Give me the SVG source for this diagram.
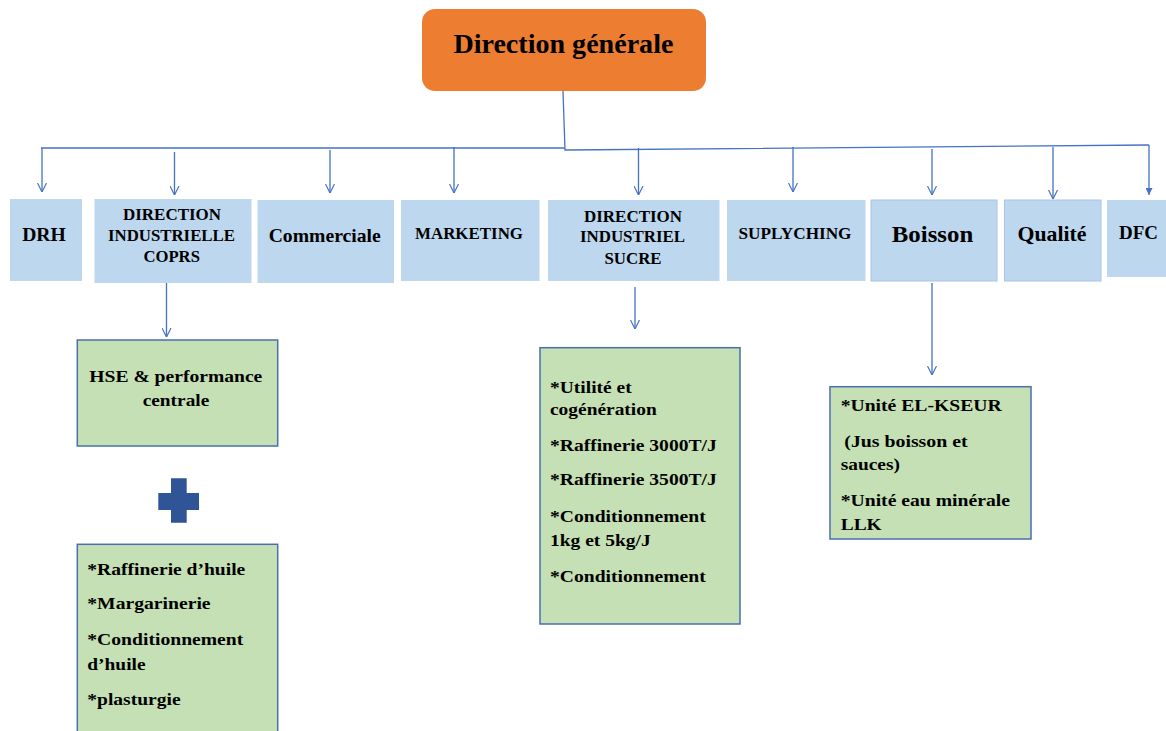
<svg xmlns="http://www.w3.org/2000/svg" width="1166" height="731" viewBox="0 0 1166 731" font-family="Liberation Serif, serif" font-weight="bold">
<style>
text{font-family:'Liberation Serif',serif;font-weight:700;fill:#000}
.c{text-anchor:middle}
.blue{fill:#BDD7EE}
.blueb{fill:#BDD7EE;stroke:#A7C4E6;stroke-width:1}
.green{fill:#C5E0B4;stroke:#4A6FB0;stroke-width:1.5}
.conn{fill:none;stroke:#4472C4;stroke-width:1.3}
.g{font-size:16.5px}
.l{font-size:17px}
</style>
<defs>
<marker id="v" viewBox="0 0 10 10" refX="10" refY="5" markerWidth="9" markerHeight="10" markerUnits="userSpaceOnUse" orient="auto">
<path d="M0,0 L10,5 L0,10" fill="none" stroke="#4472C4" stroke-width="1.3"/>
</marker>
<marker id="tri" viewBox="0 0 10 10" refX="10" refY="5" markerWidth="8" markerHeight="7" markerUnits="userSpaceOnUse" orient="auto">
<path d="M0,0 L10,5 L0,10 Z" fill="#4472C4"/>
</marker>
</defs>
<g id="connectors">
<path class="conn" d="M563,91 L565,150 L1149,145"/>
<path class="conn" d="M41,148 L565,148"/>
<path class="conn" d="M42,148 V192" marker-end="url(#v)"/>
<path class="conn" d="M174.5,152 V195" marker-end="url(#v)"/>
<path class="conn" d="M330,150 V193" marker-end="url(#v)"/>
<path class="conn" d="M454,147 V193" marker-end="url(#v)"/>
<path class="conn" d="M638.5,148 V195" marker-end="url(#v)"/>
<path class="conn" d="M793,147 V192" marker-end="url(#v)"/>
<path class="conn" d="M932,149 V195" marker-end="url(#v)"/>
<path class="conn" d="M1053,147 V199" marker-end="url(#v)"/>
<path class="conn" d="M1149,145 V195" marker-end="url(#tri)"/>
<path class="conn" d="M166.5,283 V337" marker-end="url(#v)"/>
<path class="conn" d="M635,287 V329" marker-end="url(#v)"/>
<path class="conn" d="M932,283 V375" marker-end="url(#v)"/>
</g>
<g id="direction-generale">
<rect x="422" y="9" width="284" height="82" rx="13" fill="#ED7D31"/>
<text class="c" x="563.4" y="53" font-size="27" textLength="220" lengthAdjust="spacingAndGlyphs">Direction générale</text>
</g>
<g id="drh">
<rect class="blue" x="10" y="199" width="72" height="82"/>
<text class="c" x="44" y="241" font-size="19" textLength="43.6" lengthAdjust="spacingAndGlyphs">DRH</text>
</g>
<g id="di-coprs">
<rect class="blue" x="94.5" y="199" width="157" height="84"/>
<text class="c l" x="172" y="220" textLength="98" lengthAdjust="spacingAndGlyphs">DIRECTION</text>
<text class="c l" x="171.5" y="241" textLength="127" lengthAdjust="spacingAndGlyphs">INDUSTRIELLE</text>
<text class="c l" x="171.7" y="262" textLength="56.5" lengthAdjust="spacingAndGlyphs">COPRS</text>
</g>
<g id="commerciale">
<rect class="blue" x="257.5" y="200" width="136.5" height="83"/>
<text class="c" x="324.7" y="242" font-size="19" textLength="112" lengthAdjust="spacingAndGlyphs">Commerciale</text>
</g>
<g id="marketing">
<rect class="blue" x="401" y="200" width="138.5" height="81"/>
<text class="c l" x="469" y="239" textLength="108" lengthAdjust="spacingAndGlyphs">MARKETING</text>
</g>
<g id="di-sucre">
<rect class="blue" x="548" y="200" width="171.5" height="81"/>
<text class="c l" x="633" y="222" textLength="98" lengthAdjust="spacingAndGlyphs">DIRECTION</text>
<text class="c l" x="632.5" y="242" textLength="105" lengthAdjust="spacingAndGlyphs">INDUSTRIEL</text>
<text class="c l" x="633" y="264" textLength="57" lengthAdjust="spacingAndGlyphs">SUCRE</text>
</g>
<g id="suplyching">
<rect class="blue" x="727" y="200" width="138.5" height="81"/>
<text class="c l" x="795" y="239" textLength="113" lengthAdjust="spacingAndGlyphs">SUPLYCHING</text>
</g>
<g id="boisson">
<rect class="blueb" x="871" y="200" width="126" height="81"/>
<text class="c" x="932.5" y="242" font-size="23" textLength="81.5" lengthAdjust="spacingAndGlyphs">Boisson</text>
</g>
<g id="qualite">
<rect class="blueb" x="1004.5" y="200" width="96.5" height="81"/>
<text class="c" x="1052" y="241" font-size="21" textLength="69" lengthAdjust="spacingAndGlyphs">Qualité</text>
</g>
<g id="dfc">
<rect class="blue" x="1107" y="200" width="62" height="77"/>
<text class="c" x="1138.5" y="239" font-size="19" textLength="39" lengthAdjust="spacingAndGlyphs">DFC</text>
</g>
<g id="hse">
<rect class="green" x="77.3" y="340" width="200.4" height="106"/>
<text class="c g" x="175.8" y="382" textLength="173" lengthAdjust="spacingAndGlyphs">HSE &amp; performance</text>
<text class="c g" x="176" y="406" textLength="66.6" lengthAdjust="spacingAndGlyphs">centrale</text>
</g>
<g id="plus">
<path d="M171,478.3 H186.7 V493 H199 V510 H186.7 V522.7 H171 V510 H158.3 V493 H171 Z" fill="#2F5597"/>
</g>
<g id="coprs-units">
<rect class="green" x="77.3" y="544.3" width="200.4" height="200"/>
<text class="g" x="87.3" y="575" textLength="158" lengthAdjust="spacingAndGlyphs">*Raffinerie d’huile</text>
<text class="g" x="87.3" y="609" textLength="123.3" lengthAdjust="spacingAndGlyphs">*Margarinerie</text>
<text class="g" x="87.3" y="645" textLength="156" lengthAdjust="spacingAndGlyphs">*Conditionnement</text>
<text class="g" x="87.3" y="670" textLength="58.3" lengthAdjust="spacingAndGlyphs">d’huile</text>
<text class="g" x="87.3" y="705" textLength="93.3" lengthAdjust="spacingAndGlyphs">*plasturgie</text>
</g>
<g id="sucre-units">
<rect class="green" x="540" y="347.7" width="200" height="276.3"/>
<text class="g" x="550" y="393" textLength="81.7" lengthAdjust="spacingAndGlyphs">*Utilité et</text>
<text class="g" x="550" y="415" textLength="106.7" lengthAdjust="spacingAndGlyphs">cogénération</text>
<text class="g" x="550" y="451" textLength="166.7" lengthAdjust="spacingAndGlyphs">*Raffinerie 3000T/J</text>
<text class="g" x="550" y="485" textLength="166.7" lengthAdjust="spacingAndGlyphs">*Raffinerie 3500T/J</text>
<text class="g" x="550" y="522" textLength="155.7" lengthAdjust="spacingAndGlyphs">*Conditionnement</text>
<text class="g" x="550" y="546" textLength="100.7" lengthAdjust="spacingAndGlyphs">1kg et 5kg/J</text>
<text class="g" x="550" y="582" textLength="155.7" lengthAdjust="spacingAndGlyphs">*Conditionnement</text>
</g>
<g id="boisson-units">
<rect class="green" x="830" y="386.7" width="201" height="152.3"/>
<text class="g" x="840.7" y="411" textLength="161" lengthAdjust="spacingAndGlyphs">*Unité EL-KSEUR</text>
<text class="g" x="844.3" y="447" textLength="123.3" lengthAdjust="spacingAndGlyphs">(Jus boisson et</text>
<text class="g" x="840.7" y="470" textLength="59.3" lengthAdjust="spacingAndGlyphs">sauces)</text>
<text class="g" x="840.7" y="506" textLength="169.3" lengthAdjust="spacingAndGlyphs">*Unité eau minérale</text>
<text class="g" x="840.7" y="530" textLength="41" lengthAdjust="spacingAndGlyphs">LLK</text>
</g>
</svg>
